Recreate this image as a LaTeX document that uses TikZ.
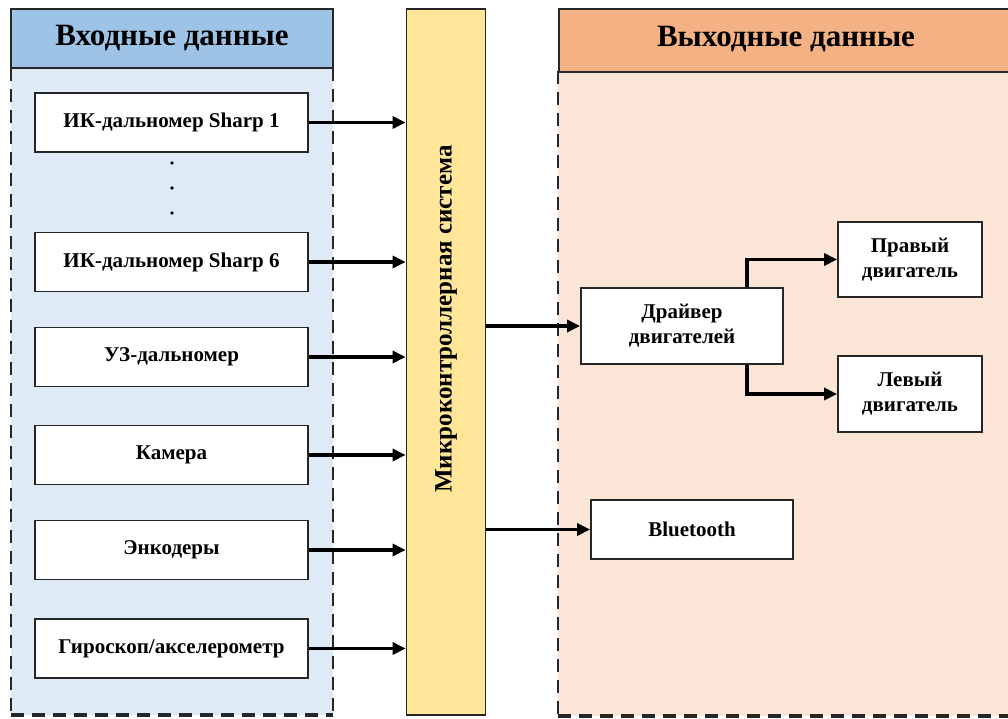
\documentclass[tikz,border=0pt]{standalone}
\usepackage{fontspec}
\setmainfont{Liberation Serif}
\usetikzlibrary{arrows.meta}
\definecolor{inhead}{HTML}{9DC3E6}
\definecolor{inbody}{HTML}{DEEBF7}
\definecolor{outhead}{HTML}{F4B183}
\definecolor{outbody}{HTML}{FBE5D6}
\definecolor{mcfill}{HTML}{FFE699}
\definecolor{edge}{HTML}{262626}
\tikzset{
  x=1pt, y=-1pt,
  blk/.style={draw=edge, line width=1.8pt, fill=white, inner sep=0pt, align=center,
    font=\fontsize{21}{25}\selectfont\bfseries},
  inblk/.style={blk, minimum width=273pt, minimum height=59pt},
  arr/.style={line width=3.4pt, -{Triangle[length=13pt,width=12pt]}},
  dashline/.style={line width=2.4pt, dash pattern=on 13pt off 8pt},
  headtxt/.style={font=\fontsize{31}{36}\selectfont\bfseries}
}
\begin{document}
\begin{tikzpicture}
\useasboundingbox (0,0) rectangle (1008,718);
\fill[white] (0,0) rectangle (1008,718);
% left panel
\fill[inbody] (11,68) rectangle (333,715);
\draw[dashline,edge] (11,68) -- (11,715);
\draw[dashline,edge] (333,68) -- (333,715);
\draw[dashline,edge,line width=3.5pt] (11,715) -- (333,715);
\node[draw=edge, line width=1.8pt, fill=inhead, minimum width=322pt, minimum height=59pt, inner sep=0pt, headtxt] (inh) at (172,38.5) {Входные данные};
% right panel
\fill[outbody] (558,71) rectangle (1012,716);
\draw[dashline,edge] (558,71) -- (558,716);
\draw[dashline,edge,line width=3.5pt] (558,716) -- (1012,716);
\node[draw=edge, line width=1.8pt, fill=outhead, minimum width=454pt, minimum height=63pt, inner sep=0pt, anchor=north west] (outh) at (558,8) {};
\node[headtxt] (outht) at (786,39.5) {Выходные данные};
% microcontroller
\node[draw=edge, line width=1.8pt, fill=mcfill, minimum width=79pt, minimum height=706pt, inner sep=0pt] (mc) at (446,362) {};
\node[rotate=90, font=\fontsize{25}{30}\selectfont\bfseries] (mct) at (446,319) {Микроконтроллерная система};
% inputs
\node[inblk] (s1) at (171.5,122.5) {ИК-дальномер Sharp 1};
\node[inblk] (s6) at (171.5,262) {ИК-дальномер Sharp 6};
\node[inblk] (uz) at (171.5,357) {УЗ-дальномер};
\node[inblk] (cam) at (171.5,455) {Камера};
\node[inblk] (enc) at (171.5,550) {Энкодеры};
\node[inblk] (gyr) at (171.5,648.5) {Гироскоп/акселерометр};
\foreach \yy/\nm in {163/d1,188/d2,213/d3}
  \fill (172,\yy) circle (1.8pt) coordinate (\nm);
\foreach \nn in {s1,s6,uz,cam,enc,gyr}
  \draw[arr] (\nn.east) -- (\nn.east -| mc.west);
% outputs
\node[blk, minimum width=202pt, minimum height=76pt] (drv) at (682,326) {Драйвер\\двигателей};
\node[blk, minimum width=144pt, minimum height=75pt] (pm) at (910,259.5) {Правый\\двигатель};
\node[blk, minimum width=144pt, minimum height=76pt] (lm) at (910,394) {Левый\\двигатель};
\node[blk, minimum width=202pt, minimum height=59pt] (bt) at (692,529.5) {Bluetooth};
\draw[arr] (mc.east |- drv.west) -- (drv.west);
\draw[arr] (mc.east |- bt.west) -- (bt.west);
\draw[arr] ([xshift=65pt]drv.north) |- (pm.west);
\draw[arr] ([xshift=65pt]drv.south) |- (lm.west);
\end{tikzpicture}
\end{document}
